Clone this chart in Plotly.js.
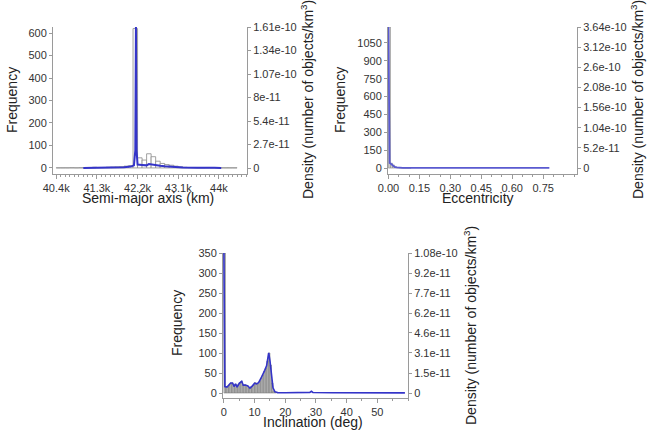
<!DOCTYPE html>
<html><head><meta charset="utf-8">
<script src="https://cdn.plot.ly/plotly-3.0.1.min.js"></script>
<style>html,body{margin:0;padding:0;background:#fff;}#chart{width:654px;height:437px;}</style>
</head><body><div id="chart"></div>
<script>
// ---- Panel 1: semi-major axis ----
const smaBinStart = [40400,40500,40600,40700,40800,40900,41000,41100,41200,41300,41400,41500,41600,41700,41800,41900,42000,42100,42200,42300,42400,42500,42600,42700,42800,42900,43000,43100,43200,43300,43400,43500,43600,43700,43800,43900,44000,44100,44200,44300];
const smaCounts   = [0.6,0.6,0.6,1,0.6,1,1,2,3,2,2,3,4,5,6,8,10,620,45,35,63,50,30,20,15,12,8,5,3,2,2,1,1,2,1,1,0.6,0.6,0.6,0.6];
const smaDensX    = [41000,41200,41300,41400,41600,41700,41900,42050,42120,42150,42164,42178,42200,42300,42400,42450,42500,42600,42700,42800,42900,43000,43200,43500,43700,43900,44050];
const smaDensY    = [1e-13,3e-13,6e-13,2e-13,3e-13,6e-13,1e-12,1.6e-12,3e-12,2e-11,1.61e-10,2e-11,4e-12,3.5e-12,3e-12,4.5e-12,4e-12,3e-12,2.5e-12,2e-12,1.5e-12,1e-12,5e-13,3e-13,6e-13,2e-13,1e-13];
const smaLeftTicks = [0,100,200,300,400,500,600];
const smaRightVals = [0,2.683e-11,5.367e-11,8.05e-11,1.073e-10,1.342e-10,1.61e-10];
const smaRightText = ["0","2.7e-11","5.4e-11","8e-11","1.07e-10","1.34e-10","1.61e-10"];
const smaXTicks = [40400,41300,42200,43100,44000];

// ---- Panel 2: eccentricity ----
const eccBinStart = [0,0.01,0.02,0.03,0.04,0.05,0.06,0.07,0.08,0.09,0.10];
const eccCounts   = [1184,40,25,10,5,3,2,1,1,1,1];
const eccDensX    = [0,0.006,0.012,0.02,0.03,0.04,0.05,0.07,0.1,0.2,0.3,0.4,0.5,0.6,0.7,0.78];
const eccDensY    = [3.64e-10,1.3e-11,1.1e-11,7e-12,3e-12,1.5e-12,6e-13,3e-13,2e-13,2e-13,2e-13,1e-13,1e-13,1e-13,1e-13,1e-13];
const eccLeftTicks = [0,150,300,450,600,750,900,1050];
const eccRightVals = [0,5.2e-11,1.04e-10,1.56e-10,2.08e-10,2.6e-10,3.12e-10,3.64e-10];
const eccRightText = ["0","5.2e-11","1.04e-10","1.56e-10","2.08e-10","2.6e-10","3.12e-10","3.64e-10"];
const eccXTicks = [0,0.15,0.30,0.45,0.60,0.75];
const eccXText = ["0.00","0.15","0.30","0.45","0.60","0.75"];

// ---- Panel 3: inclination ----
const incBinStart = [0,0.5,1,1.5,2,2.5,3,3.5,4,4.5,5,5.5,6,6.5,7,7.5,8,8.5,9,9.5,10,10.5,11,11.5,12,12.5,13,13.5,14,14.5,15,15.5,16,16.5];
const incCounts   = [350,15,16,20,25,25,17,22,14,22,26,29,20,21,19,17,12,15,17,20,26,22,23,30,38,45,55,62,80,100,70,25,5,2];
const incDensX    = [0,0.3,1,1.5,2.2,2.8,3.3,3.8,4.3,5,5.8,6.3,7,7.8,8.5,9.3,10,10.6,11.3,12,12.7,13.3,13.9,14.6,15,15.5,16,16.6,17.5,20,25,28,28.5,29,35,40,45,50,52,54,56,59];
const incDensY    = [1.08e-10,5e-12,4.6e-12,6e-12,7.7e-12,7.7e-12,5e-12,7e-12,4.5e-12,7.5e-12,9e-12,6e-12,6.2e-12,5.5e-12,3.7e-12,5.5e-12,7.5e-12,7e-12,8e-12,1.1e-11,1.4e-11,1.75e-11,2.1e-11,3.1e-11,2.5e-11,1.2e-11,4e-12,1e-12,3e-13,2e-13,2e-13,5e-13,1.3e-12,4e-13,2e-13,2e-13,1e-13,2e-13,6e-13,4e-13,2e-13,1e-13];
const incLeftTicks = [0,50,100,150,200,250,300,350];
const incRightVals = [0,1.543e-11,3.086e-11,4.629e-11,6.171e-11,7.714e-11,9.257e-11,1.08e-10];
const incRightText = ["0","1.5e-11","3.1e-11","4.6e-11","6.2e-11","7.7e-11","9.2e-11","1.08e-10"];
const incXTicks = [0,10,20,30,40,50];

const W = 654, H = 437;
const px = v => v / W;
const py = v => 1 - v / H;
const lineColor = '#3434c8';
const axisCol = '#9a9a9a';
const tickFont = {family: 'Liberation Sans, Arial, sans-serif', size: 11, color: '#333'};
const titleFont = {family: 'Liberation Sans, Arial, sans-serif', size: 14, color: '#222'};

function baseY(range, ticks, dom, anchor) {
  return {domain: dom, range: range, anchor: anchor, tickvals: ticks, ticks: 'outside', ticklen: 3,
    tickcolor: axisCol, showline: true, linecolor: axisCol, linewidth: 1, showgrid: false, zeroline: false,
    tickfont: tickFont};
}
function rightY(range, vals, text, over, anchor) {
  return {overlaying: over, anchor: anchor, side: 'right', range: range, tickvals: vals, ticktext: text,
    ticks: 'outside', ticklen: 3, tickcolor: axisCol, showline: true, linecolor: axisCol, linewidth: 1,
    showgrid: false, zeroline: false, tickfont: tickFont};
}
function xAx(range, dom, anchor, vals, text, minorD) {
  const a = {domain: dom, range: range, anchor: anchor, tickvals: vals, ticks: 'outside', ticklen: 4,
    tickcolor: axisCol, showline: true, linecolor: axisCol, linewidth: 1, showgrid: false, zeroline: false,
    tickfont: tickFont, minor: {dtick: minorD, ticks: 'outside', ticklen: 2, tickcolor: axisCol, showgrid: false}};
  if (text) a.ticktext = text;
  return a;
}

const traces = [
  {type: 'bar', x: smaBinStart, y: smaCounts, width: 100, offset: 0, xaxis: 'x', yaxis: 'y',
   marker: {color: '#ffffff', line: {color: '#8a8a8a', width: 0.8}}, hoverinfo: 'skip'},
  {type: 'scatter', mode: 'lines', x: smaDensX, y: smaDensY, xaxis: 'x', yaxis: 'y2',
   line: {color: lineColor, width: 2}},
  {type: 'bar', x: eccBinStart, y: eccCounts, width: 0.01, offset: 0, xaxis: 'x2', yaxis: 'y3',
   marker: {color: '#cfcfcf', line: {color: '#8a8a8a', width: 0.6}}},
  {type: 'scatter', mode: 'lines', x: eccDensX, y: eccDensY, xaxis: 'x2', yaxis: 'y4',
   line: {color: '#5a5ad0', width: 1.8}},
  {type: 'bar', x: incBinStart, y: incCounts, width: 0.5, offset: 0, xaxis: 'x3', yaxis: 'y5',
   marker: {color: '#c4c4c4', line: {color: '#6a6a6a', width: 0.5}}},
  {type: 'scatter', mode: 'lines', x: incDensX, y: incDensY, xaxis: 'x3', yaxis: 'y6',
   line: {color: lineColor, width: 1.6}}
];

const p1x = [px(53), px(247)], p1y = [py(174), py(27)];
const p2x = [px(388), px(577)], p2y = [py(174), py(27)];
const p3x = [px(223), px(408)], p3y = [py(398), py(253)];

const layout = {
  width: W, height: H, margin: {l: 0, r: 0, t: 0, b: 0},
  paper_bgcolor: '#fff', plot_bgcolor: '#fff', showlegend: false, bargap: 0, barmode: 'overlay',
  xaxis: xAx([40330, 44620], p1x, 'y', smaXTicks, null, 100),
  yaxis: baseY([-27, 627], smaLeftTicks, p1y, 'x'),
  yaxis2: rightY([-6.85e-12, 1.61e-10], smaRightVals, smaRightText, 'y', 'x'),
  xaxis2: xAx([-0.002, 0.914], p2x, 'y3', eccXTicks, eccXText, 0.05),
  yaxis3: baseY([-50, 1184], eccLeftTicks, p2y, 'x2'),
  yaxis4: rightY([-1.55e-11, 3.64e-10], eccRightVals, eccRightText, 'y3', 'x2'),
  xaxis3: xAx([-0.3, 60], p3x, 'y5', incXTicks, null, 5),
  yaxis5: baseY([-12.5, 350], incLeftTicks, p3y, 'x3'),
  yaxis6: rightY([-3.86e-12, 1.08e-10], incRightVals, incRightText, 'y5', 'x3'),
  annotations: [
    {text: 'Frequency', x: px(12), y: py(100), textangle: -90},
    {text: 'Density (number of objects/km<sup>3</sup>)', x: px(307), y: py(100), textangle: -90},
    {text: 'Semi-major axis (km)', x: px(148), y: py(198)},
    {text: 'Frequency', x: px(340), y: py(100), textangle: -90},
    {text: 'Density (number of objects/km<sup>3</sup>)', x: px(637), y: py(100), textangle: -90},
    {text: 'Eccentricity', x: px(478), y: py(198)},
    {text: 'Frequency', x: px(177), y: py(323), textangle: -90},
    {text: 'Density (number of objects/km<sup>3</sup>)', x: px(470), y: py(325), textangle: -90},
    {text: 'Inclination (deg)', x: px(313), y: py(422)}
  ].map(a => Object.assign({xref: 'paper', yref: 'paper', showarrow: false, xanchor: 'center', yanchor: 'middle', font: titleFont}, a))
};

Plotly.newPlot('chart', traces, layout, {staticPlot: true, displayModeBar: false});
</script>
</body></html>
